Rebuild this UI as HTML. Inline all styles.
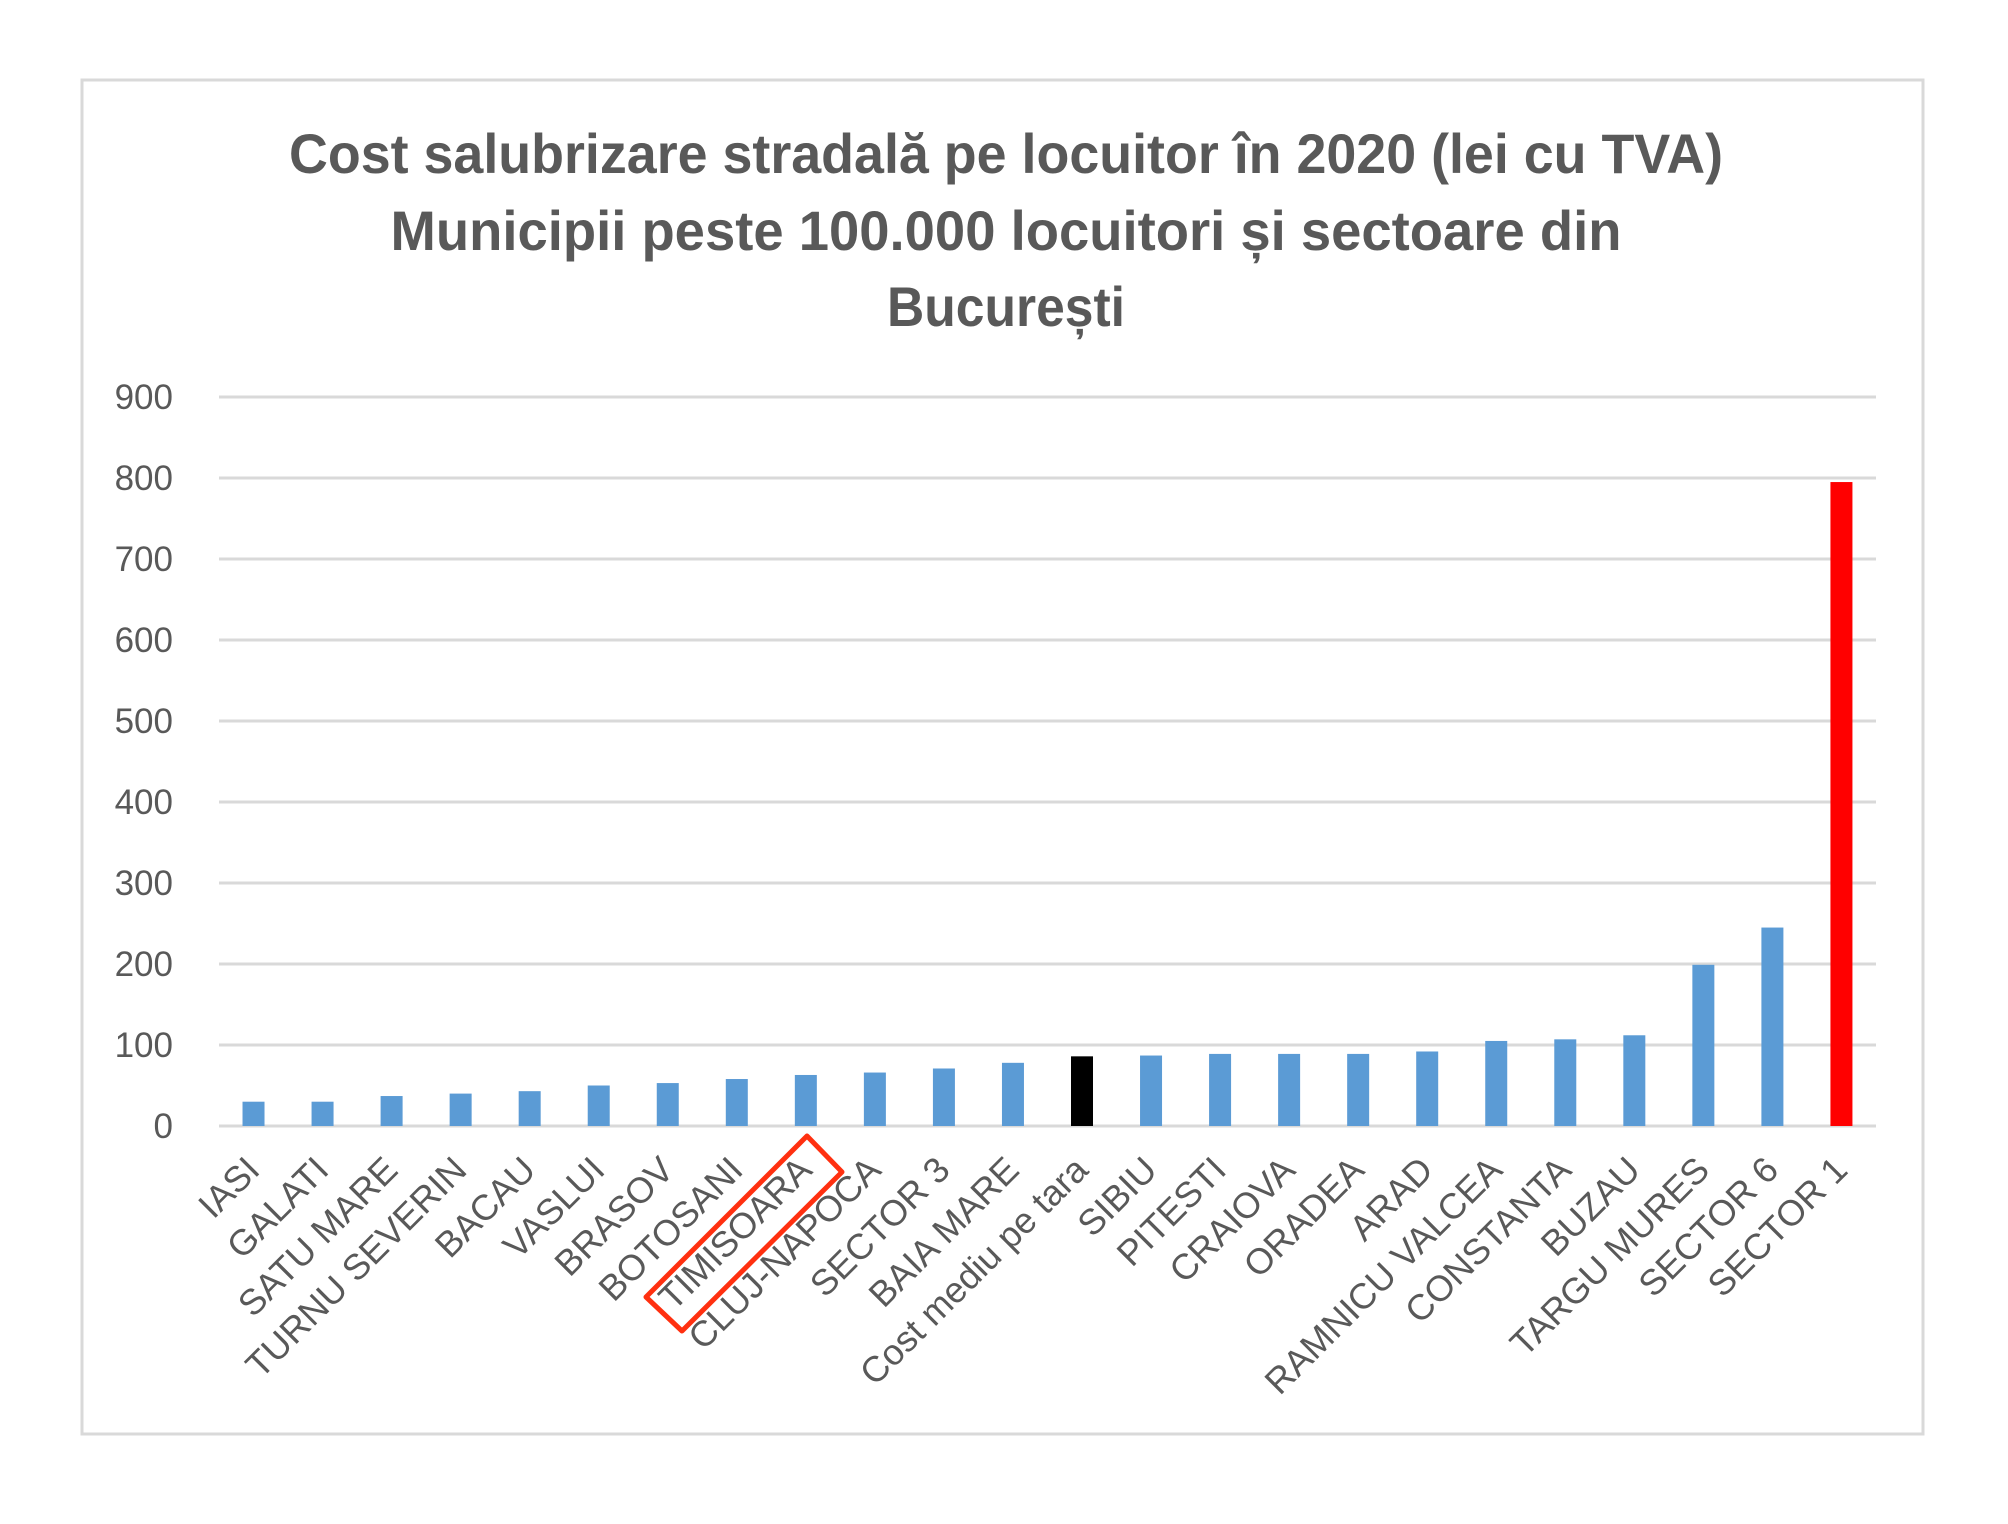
<!DOCTYPE html>
<html><head><meta charset="utf-8"><style>html,body{margin:0;padding:0;background:#fff}svg{display:block}</style></head>
<body>
<svg width="2008" height="1524" viewBox="0 0 2008 1524" xmlns="http://www.w3.org/2000/svg" font-family="Liberation Sans, sans-serif">
<rect x="0" y="0" width="2008" height="1524" fill="#fff"/>
<rect x="82" y="80" width="1841" height="1354" fill="#fff" stroke="#d9d9d9" stroke-width="3"/>
<g fill="#595959" font-weight="bold" font-size="56" text-anchor="middle">
<text x="1006" y="173" textLength="1434" lengthAdjust="spacingAndGlyphs">Cost salubrizare stradală pe locuitor în 2020 (lei cu TVA)</text>
<text x="1006" y="250" textLength="1231" lengthAdjust="spacingAndGlyphs">Municipii peste 100.000 locuitori și sectoare din</text>
<text x="1006" y="326" textLength="238" lengthAdjust="spacingAndGlyphs">București</text>
</g>
<g stroke="#d9d9d9" stroke-width="3">
<line x1="219" y1="397" x2="1876" y2="397"/>
<line x1="219" y1="478" x2="1876" y2="478"/>
<line x1="219" y1="559" x2="1876" y2="559"/>
<line x1="219" y1="640" x2="1876" y2="640"/>
<line x1="219" y1="721" x2="1876" y2="721"/>
<line x1="219" y1="802" x2="1876" y2="802"/>
<line x1="219" y1="883" x2="1876" y2="883"/>
<line x1="219" y1="964" x2="1876" y2="964"/>
<line x1="219" y1="1045" x2="1876" y2="1045"/>
<line x1="219" y1="1126" x2="1876" y2="1126"/>
</g>
<g fill="#595959" font-size="35" text-anchor="end">
<text x="173" y="409">900</text>
<text x="173" y="490">800</text>
<text x="173" y="571">700</text>
<text x="173" y="652">600</text>
<text x="173" y="733">500</text>
<text x="173" y="814">400</text>
<text x="173" y="895">300</text>
<text x="173" y="976">200</text>
<text x="173" y="1057">100</text>
<text x="173" y="1138">0</text>
</g>
<g id="bars"></g>
<g id="labels" fill="#595959" font-size="36" text-anchor="end"></g>
<polygon points="807,1136 842,1172 682,1331 646,1297" fill="none" stroke="#ff3010" stroke-width="5" stroke-linejoin="round"/>
<script>
var names=["IASI","GALATI","SATU MARE","TURNU SEVERIN","BACAU","VASLUI","BRASOV","BOTOSANI","TIMISOARA","CLUJ-NAPOCA","SECTOR 3","BAIA MARE","Cost mediu pe tara","SIBIU","PITESTI","CRAIOVA","ORADEA","ARAD","RAMNICU VALCEA","CONSTANTA","BUZAU","TARGU MURES","SECTOR 6","SECTOR 1"];
var vals=[30,30,37,40,43,50,53,58,63,66,71,78,86,87,89,89,89,92,105,107,112,199,245,795];
var ns="http://www.w3.org/2000/svg",b=document.getElementById("bars"),l=document.getElementById("labels");
for(var i=0;i<24;i++){var cx=219+69.04*(i+0.5);var h=vals[i]*0.81;
var r=document.createElementNS(ns,"rect");r.setAttribute("x",cx-11);r.setAttribute("y",1126-h);r.setAttribute("width",22);r.setAttribute("height",h);
r.setAttribute("fill",i==12?"#000":(i==23?"#ff0000":"#5b9bd5"));b.appendChild(r);
var t=document.createElementNS(ns,"text");var tx=cx+8,ty=1172;t.setAttribute("x",tx);t.setAttribute("y",ty);t.setAttribute("transform","rotate(-45 "+tx+" "+ty+")");t.textContent=names[i];l.appendChild(t);}
</script>
</svg>
</body></html>
